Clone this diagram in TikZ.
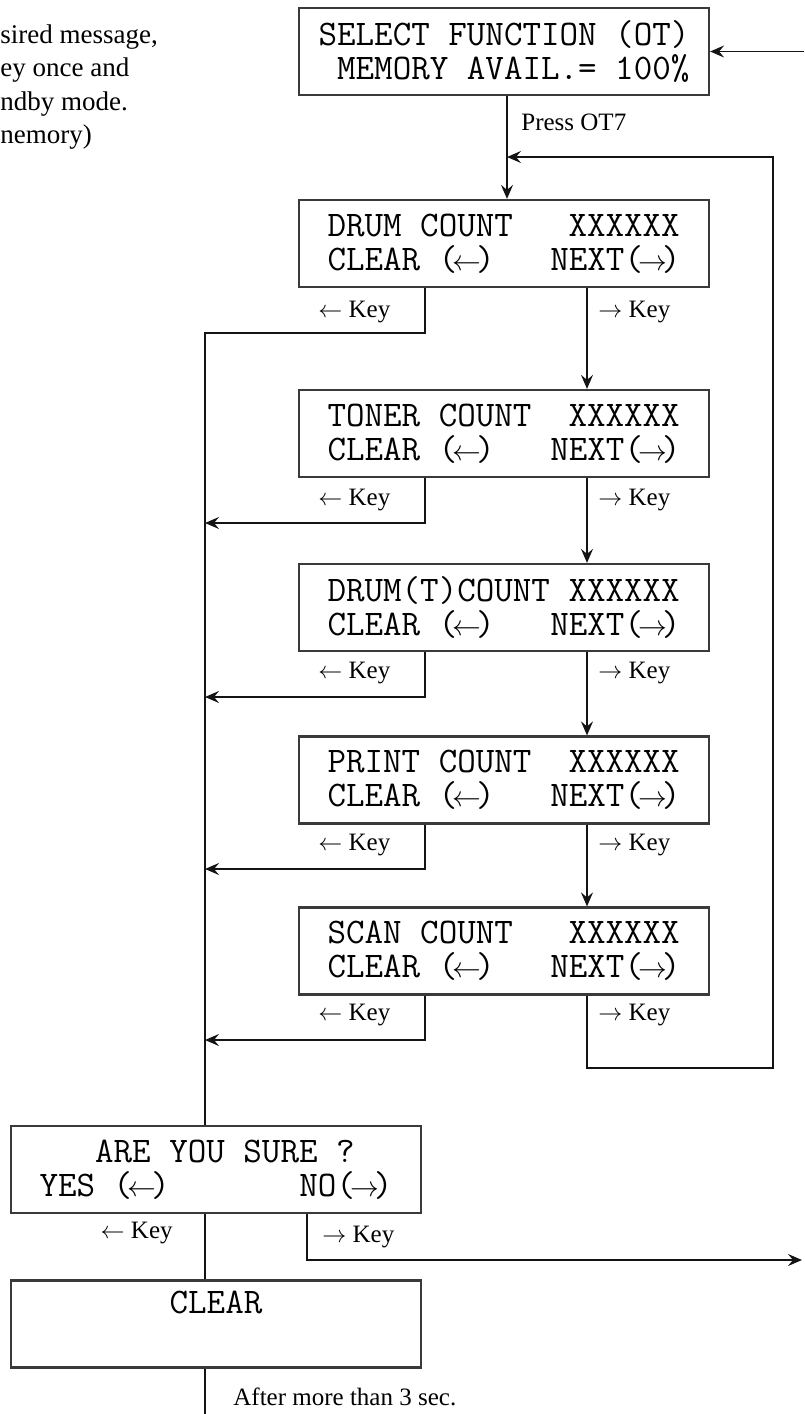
\documentclass[tikz,border=0pt]{standalone}
\usepackage{fontspec}
\setmainfont{Liberation Serif}
\usetikzlibrary{arrows.meta}
\definecolor{panelgrey}{RGB}{58,58,58}
\definecolor{wiregrey}{RGB}{20,20,20}
\newcommand\lcdarrow[1]{\makebox[.525em]{\fontsize{14}{14}\selectfont$#1$}}
\newcommand\lcdleft{\lcdarrow\leftarrow}
\newcommand\lcdright{\lcdarrow\rightarrow}

\begin{document}
\begin{tikzpicture}[x=.5pt,y=-.5pt,
    panel/.style={rectangle,draw=panelgrey,line width=1.1pt,minimum width=205pt,
      minimum height=43.5pt,inner sep=0pt,align=left,
      font=\ttfamily\fontsize{18}{17}\selectfont},
    keylabel/.style={inner sep=0pt,font=\fontsize{12.5}{14}\selectfont},
    note/.style={inner sep=0pt,anchor=base west,font=\fontsize{13.5}{16}\selectfont},
    wire/.style={draw=wiregrey,line width=.8pt},
    flow/.style={wire,-{Stealth[length=7pt,width=6pt,inset=2.5pt]}}]
    \useasboundingbox (0,0) rectangle (804,1414);

    \node[note] (note1) at (0,43) {sired message,};
    \node[note] (note2) at (0,76) {ey once and};
    \node[note] (note3) at (0,110) {ndby mode.};
    \node[note] (note4) at (0,143) {nemory)};

    \node[panel] (sel) at (504,51.5) {SELECT~FUNCTION~(OT)\\~MEMORY~AVAIL.=~100\%};
    \node[panel] (drum) at (504,243.5) {DRUM~COUNT~~~XXXXXX\\CLEAR~(\lcdleft)~~~NEXT(\lcdright)};
    \node[panel] (toner) at (504,433.5) {TONER~COUNT~~XXXXXX\\CLEAR~(\lcdleft)~~~NEXT(\lcdright)};
    \node[panel] (drumt) at (504,607.5) {DRUM(T)COUNT~XXXXXX\\CLEAR~(\lcdleft)~~~NEXT(\lcdright)};
    \node[panel] (print) at (504,780) {PRINT~COUNT~~XXXXXX\\CLEAR~(\lcdleft)~~~NEXT(\lcdright)};
    \node[panel] (scan) at (504,951) {SCAN~COUNT~~~XXXXXX\\CLEAR~(\lcdleft)~~~NEXT(\lcdright)};
    \node[panel] (sure) at (216,1169.5) {~~~ARE~YOU~SURE~?\\YES~(\lcdleft)~~~~~~~NO(\lcdright)};
    \node[panel,align=center] (clr) at (216,1324) {CLEAR\\\strut};

    \coordinate (feed) at (804,51.5);
    \coordinate (join) at (507,157);
    \coordinate (loopup) at (773,157);
    \coordinate (loopdown) at (773,1068);
    \coordinate (bus) at (205,333);
    \coordinate (tonerback) at (205,523);
    \coordinate (drumtback) at (205,697);
    \coordinate (printback) at (205,869);
    \coordinate (scanback) at (205,1040);
    \coordinate (reject) at (802,1260);
    \coordinate (bottom) at (205,1414);

    \draw[flow] (feed)--(sel.east);
    \draw[flow] ([xshift=1.5pt]sel.south)--([xshift=1.5pt]drum.north);
    \draw[flow] ([xshift=41.5pt]drum.south)--([xshift=41.5pt]toner.north);
    \draw[flow] ([xshift=41.5pt]toner.south)--([xshift=41.5pt]drumt.north);
    \draw[flow] ([xshift=41.5pt]drumt.south)--([xshift=41.5pt]print.north);
    \draw[flow] ([xshift=41.5pt]print.south)--([xshift=41.5pt]scan.north);
    \draw[flow] ([xshift=41.5pt]scan.south) |- (loopdown)--(loopup)--(join);
    \draw[wire] ([xshift=-39.5pt]drum.south) |- (bus)--(bus |- sure.north);
    \draw[flow] ([xshift=-39.5pt]toner.south) |- (tonerback);
    \draw[flow] ([xshift=-39.5pt]drumt.south) |- (drumtback);
    \draw[flow] ([xshift=-39.5pt]print.south) |- (printback);
    \draw[flow] ([xshift=-39.5pt]scan.south) |- (scanback);
    \draw[wire] (bus |- sure.south)--(bus |- clr.north);
    \draw[flow] ([xshift=45.5pt]sure.south) |- (reject);
    \draw[wire] (bus |- clr.south)--(bottom);

    \node[keylabel,anchor=west] (press) at (521,122) {Press OT7};
    \node[keylabel,anchor=west] (drumleft) at (318,312) {$\leftarrow$ Key};
    \node[keylabel,anchor=west] (drumright) at (598,312) {$\rightarrow$ Key};
    \node[keylabel,anchor=west] (tonerleft) at (318,500) {$\leftarrow$ Key};
    \node[keylabel,anchor=west] (tonerright) at (598,500) {$\rightarrow$ Key};
    \node[keylabel,anchor=west] (drumtleft) at (318,673) {$\leftarrow$ Key};
    \node[keylabel,anchor=west] (drumtright) at (598,673) {$\rightarrow$ Key};
    \node[keylabel,anchor=west] (printleft) at (318,845) {$\leftarrow$ Key};
    \node[keylabel,anchor=west] (printright) at (598,845) {$\rightarrow$ Key};
    \node[keylabel,anchor=west] (scanleft) at (318,1015) {$\leftarrow$ Key};
    \node[keylabel,anchor=west] (scanright) at (598,1015) {$\rightarrow$ Key};
    \node[keylabel,anchor=east] (yes) at (173,1233) {$\leftarrow$ Key};
    \node[keylabel,anchor=west] (no) at (322,1237) {$\rightarrow$ Key};
    \node[keylabel,anchor=west] (wait) at (233,1397) {After more than 3 sec.};
  \end{tikzpicture}
\end{document}
